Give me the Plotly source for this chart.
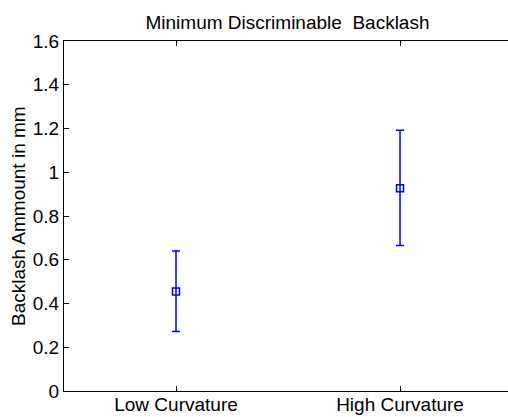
import plotly.graph_objects as go

categories = ["Low Curvature", "High Curvature"]
means = [0.455, 0.927]
err_plus = [0.185, 0.265]
err_minus = [0.183, 0.262]
y_ticks = [0, 0.2, 0.4, 0.6, 0.8, 1.0, 1.2, 1.4, 1.6]
y_tick_labels = ["0", "0.2", "0.4", "0.6", "0.8", "1", "1.2", "1.4", "1.6"]
x_pos = [1, 2]

W, H = 508, 417
L, T, B = 64, 41, 26
FONT = "Liberation Sans, Arial, sans-serif"
FS = 19

fig = go.Figure()
fig.add_trace(go.Scatter(
    x=x_pos, y=means, mode="markers",
    marker=dict(symbol="square-open", size=7, color="#0000ff", line=dict(width=1.5, color="#0000ff")),
    error_y=dict(type="data", symmetric=False, array=err_plus, arrayminus=err_minus,
                 color="#0000ff", thickness=1.5, width=4),
    showlegend=False,
))

fig.update_layout(
    width=W, height=H,
    margin=dict(l=L, r=0, t=T, b=B, pad=0),
    paper_bgcolor="white", plot_bgcolor="white",
    font=dict(family=FONT, size=FS, color="black"),
    title=dict(text="Minimum Discriminable  Backlash", x=((142 + 433) / 2) / W, xanchor="center",
               y=1 - 22 / H, yanchor="middle", yref="container", automargin=False,
               font=dict(family=FONT, size=FS, color="black")),
    xaxis=dict(range=[0.5, 2.482], tickvals=x_pos, ticktext=categories, automargin=False,
               showline=True, linecolor="black", linewidth=1, mirror="allticks",
               ticks="inside", ticklen=5, tickcolor="black", showgrid=False, zeroline=False,
               ticklabelstandoff=-4,
               tickfont=dict(family=FONT, size=FS, color="black")),
    yaxis=dict(range=[0, 1.6], tickvals=y_ticks, ticktext=y_tick_labels, automargin=False,
               showline=True, linecolor="black", linewidth=1, mirror=False,
               ticks="inside", ticklen=5, tickcolor="black", showgrid=False, zeroline=False,
               tickfont=dict(family=FONT, size=FS, color="black")),
    annotations=[dict(text="Backlash Ammount in mm", xref="paper", yref="paper",
                      x=-(64 - 18) / (W - L), y=0.5, xanchor="center", yanchor="middle",
                      textangle=-90, showarrow=False,
                      font=dict(family=FONT, size=FS, color="black"))],
)

fig.write_html("out.html", config={"displayModeBar": False},
               post_script="document.body.style.margin='0';document.body.style.overflow='hidden';")
